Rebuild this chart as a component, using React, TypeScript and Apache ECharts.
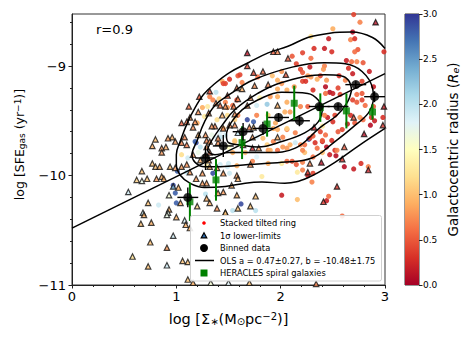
import React, { useEffect, useRef } from "react";
import * as echarts from "echarts";

const FONT = "DejaVu Sans";
const RDYLBU = ["#a50026","#d73027","#f46d43","#fdae61","#fee090","#ffffbf","#e0f3f8","#abd9e9","#74add1","#4575b4","#313695"];

// x, y, galactocentric radius
const rings: number[][] = [
[2.70,-8.53,.4],[2.76,-8.60,.7],[2.50,-8.66,.9],[2.29,-8.73,1.2],[2.69,-8.69,.1],[2.46,-8.75,.2],[2.67,-8.76,.7],[2.71,-8.75,.3],
[2.32,-8.84,.3],[2.42,-8.84,.2],[2.49,-8.87,.3],[2.74,-8.85,.5],[2.71,-8.87,.6],[2.99,-8.87,.3],[2.21,-8.88,.4],[2.11,-8.91,.5],
[2.29,-8.93,.6],[2.63,-8.95,.2],[2.68,-8.96,.6],[2.73,-8.96,.7],[2.79,-8.97,.5],[2.15,-8.98,.4],[2.28,-9.01,.2],[2.42,-9.0,.7],
[2.41,-9.03,.8],[2.65,-9.02,.3],[2.19,-9.03,.4],[2.21,-9.06,.5],[2.85,-9.05,.2],[2.26,-9.09,.8],[2.38,-9.09,.4],[2.56,-9.09,.3],
[2.69,-9.07,.2],[2.78,-9.14,.4],[2.21,-9.14,.4],[2.24,-9.14,.3],[2.29,-9.10,.8],[2.35,-9.12,.9],[2.44,-9.13,.8],[2.62,-9.13,.7],
[2.13,-9.19,.8],[1.97,-9.13,.9],[1.92,-9.09,1.0],[2.01,-9.05,.8],[1.59,-9.09,.5],[1.47,-9.16,.4],[1.51,-9.12,.3],[1.63,-9.15,.7],
[1.78,-9.10,.6],[2.01,-9.16,.8],[1.97,-9.21,.9],[2.06,-9.22,.9],[2.43,-9.19,.1],[2.47,-9.24,.1],[2.50,-9.25,.2],[2.43,-9.25,.6],
[2.31,-9.22,.3],[2.55,-9.20,.4],[2.57,-9.26,.4],[2.73,-9.26,.6],[2.78,-9.25,.5],[2.89,-9.19,.2],[2.69,-9.31,.4],[2.73,-9.33,.5],
[2.78,-9.31,.4],[2.89,-9.37,.5],[2.81,-9.36,.6],[2.67,-9.45,.3],[2.71,-9.52,.5],[2.76,-9.47,.8],[2.79,-9.49,.6],[2.87,-9.47,.3],
[2.86,-9.54,.1],[2.90,-9.50,.2],[2.98,-9.47,.3],[2.26,-9.37,.5],[2.19,-9.37,.7],[2.45,-9.47,.2],[2.52,-9.45,.4],[2.50,-9.51,.3],
[2.42,-9.45,.7],[2.40,-9.55,1.3],[2.38,-9.60,.4],[2.64,-9.53,.2],[2.59,-9.58,.4],[2.55,-9.60,.5],[2.43,-9.63,.6],[2.31,-9.64,.5],
[2.27,-9.67,2.9],[2.33,-9.70,.3],[2.40,-9.69,.2],[2.49,-9.68,.3],[2.44,-9.74,.1],[2.35,-9.75,.6],[1.87,-9.35,2.2],[1.97,-9.28,.9],
[1.80,-9.29,1.4],[1.77,-9.36,1.9],[1.68,-9.49,2.9],[1.74,-9.51,2.8],[1.77,-9.45,.7],[2.04,-9.42,.9],[2.09,-9.42,.8],[1.95,-9.52,.9],
[1.88,-9.45,1.1],[2.06,-9.58,.7],[1.97,-9.58,.9],[2.14,-9.61,.7],[2.02,-9.65,.7],[2.09,-9.72,.9],[2.14,-9.70,1.9],[2.02,-9.74,.8],
[2.23,-9.72,.6],[2.19,-9.72,.7],[1.56,-9.68,1.2],[1.77,-9.65,1.8],[1.73,-9.87,.7],[1.88,-9.89,.9],[2.01,-9.89,1.3],[2.06,-9.87,.6],
[2.11,-9.87,.5],[2.15,-9.90,.5],[2.21,-9.88,.7],[2.16,-9.97,1.3],[2.21,-9.95,.7],[2.26,-10.0,.2],[2.31,-9.98,.4],[2.30,-10.06,.7],
[1.82,-10.01,1.3],[2.01,-10.18,.2],[2.16,-10.22,1.0],[2.44,-10.23,.2],[2.46,-10.19,.6],[2.53,-9.82,.1],[2.61,-9.92,.1],[2.70,-9.94,.2],
[2.77,-9.89,.3],[2.84,-9.92,.7],[1.62,-10.26,2.9],[1.54,-10.32,2.0],[1.76,-10.32,2.0],[2.23,-9.79,1.0],[2.40,-9.79,1.0],[2.52,-9.77,.3],
[1.97,-9.77,.6],[1.88,-9.77,.8],[1.77,-9.83,1.8],[1.50,-9.89,1.9],[1.58,-9.91,.9],[1.66,-9.79,1.0],[2.59,-10.37,.6],
[.83,-10.27,1.9],[.99,-10.16,2.8],[1.0,-10.25,2.8],[1.01,-9.96,2.8],[1.10,-9.97,2.0],[1.28,-10.17,2.0],[1.35,-9.98,2.9],[1.11,-9.84,1.9],
[1.05,-9.81,1.2],[1.49,-9.92,1.9],[1.29,-9.91,1.3],[1.42,-9.90,1.9],[1.51,-9.98,1.9],[.97,-10.09,2.9],
[1.44,-9.14,.9],[1.45,-9.16,.4],[1.38,-9.24,2.0],[1.32,-9.28,.7],[1.35,-9.31,.7],[1.41,-9.30,1.1],[1.25,-9.38,.9],[1.30,-9.37,1.3],
[1.27,-9.46,1.3],[1.20,-9.52,.9],[1.47,-9.33,.7],[1.49,-9.38,.8],[1.19,-9.70,2.9],[1.39,-9.49,1.2],[1.42,-9.65,2.0],[1.47,-9.63,1.9],
[1.39,-9.66,1.9],[1.18,-9.69,2.8],[1.23,-9.74,2.0],[1.21,-9.79,1.7],[1.42,-9.61,1.8],[1.56,-9.69,1.0],[1.50,-9.74,1.5],[1.34,-9.63,1.7],
[1.54,-9.79,.9],[1.45,-9.57,.9],[1.56,-9.49,1.1],[1.54,-9.36,.6],[1.59,-9.45,.7],[1.58,-9.31,.4],[1.49,-9.45,1.2],[1.61,-9.08,.4],
[2.06,-9.33,.9],[1.90,-9.28,.8],[1.93,-9.57,.9],[2.06,-9.57,1.1],[1.93,-9.69,.7],[1.87,-9.72,1.1],[1.83,-9.66,1.0],[1.90,-9.77,.9],
[2.06,-9.75,.8],[2.21,-9.77,.7],[2.28,-9.66,.4],[2.40,-9.68,.5],[2.47,-9.81,.2],[2.54,-9.77,.7],[2.31,-9.83,.6]
];

const limits: number[][] = [
[1.32,-9.23,.4],[1.22,-9.28,.5],[1.12,-9.37,.6],[1.21,-9.42,.75],[1.13,-9.47,.75],[1.05,-9.52,.5],[1.10,-9.51,.6],[1.18,-9.51,.75],
[1.16,-9.56,.75],[1.31,-9.43,.75],[1.38,-9.34,.7],[1.42,-9.36,.6],[1.49,-9.27,.5],[1.47,-9.37,.75],[1.44,-9.45,.9],[1.45,-9.57,.75],
[1.37,-9.55,.7],[1.28,-9.63,.75],[1.21,-9.63,.9],[1.08,-9.65,.7],[.96,-9.65,.9],[.92,-9.66,.8],[.80,-9.67,1.0],[.77,-9.73,.9],
[.86,-9.75,.8],[.90,-9.74,.9],[.99,-9.69,.8],[1.05,-9.70,.7],[1.10,-9.72,.65],[1.29,-9.68,.7],[1.32,-9.69,.8],[1.40,-9.70,.75],
[.54,-10.15,1.9],[.67,-9.96,1.0],[.77,-9.89,1.0],[.80,-9.92,1.0],[.84,-9.92,.9],[.62,-10.04,1.1],[.67,-10.05,1.7],[.72,-10.03,1.0],
[.81,-10.03,.8],[.86,-10.01,.9],[.88,-10.03,.9],[.73,-10.25,1.0],[.68,-10.34,2.0],[.69,-10.36,.9],[.76,-10.43,.9],[.66,-10.44,1.0],
[.93,-10.31,.9],[.92,-10.34,1.7],[.91,-10.36,1.7],[1.0,-10.38,.9],[.75,-10.61,1.0],[.91,-10.66,.8],[.97,-10.55,1.9],[.58,-10.74,1.2],
[.73,-10.83,1.0],[.91,-10.82,1.9],[1.06,-10.78,1.0],[1.11,-10.79,1.0],[1.11,-10.95,1.0],[1.16,-10.98,.9],[1.33,-10.98,1.6],[.93,-10.18,1.6],
[1.04,-10.25,.9],[1.20,-10.28,1.1],[1.08,-10.41,1.8],[1.09,-10.45,.9],[1.13,-10.48,.9],[1.32,-10.25,.9],[1.29,-10.21,.9],[1.39,-10.30,.75],
[1.47,-10.34,1.0],[1.40,-10.16,.8],[1.45,-10.15,.8],[.94,-9.92,1.0],[1.05,-9.92,.8],[1.10,-9.90,.75],[.99,-9.93,.8],[.97,-10.10,2.4],
[1.13,-9.97,.8],[1.19,-10.03,.8],[1.25,-9.98,.8],[1.29,-10.07,.8],[1.25,-10.07,.8],[1.16,-9.81,.8],[1.02,-10.11,.9],[.86,-9.79,.8],
[1.23,-9.86,.9],[1.39,-9.93,.8],[1.32,-9.92,.9],[1.74,-9.06,.4],[1.83,-9.05,.6],[1.68,-9.0,.4],[1.68,-8.88,.1],[1.93,-8.87,.5],
[1.97,-8.87,.7],[2.07,-8.93,.5],[2.91,-8.60,.1],[2.05,-9.08,.5],[1.88,-9.17,.7],[1.75,-9.18,.75],[1.58,-9.20,.6],[1.63,-9.21,.9],
[1.71,-9.29,.75],[1.59,-9.30,.7],[1.68,-9.36,.75],[1.55,-9.37,.7],[1.97,-9.36,.9],[1.56,-9.44,.75],[1.51,-9.54,.75],[1.56,-9.54,.7],
[1.70,-9.56,.65],[1.74,-9.56,1.0],[2.32,-9.56,.2],[2.70,-9.47,.5],[2.99,-9.37,.2],[2.98,-9.54,.3],[2.80,-9.62,.1],[1.97,-9.65,.9],
[1.73,-9.65,.8],[1.59,-9.61,2.0],[2.61,-9.74,.5],[1.79,-9.75,.8],[1.73,-9.75,.2],[1.64,-9.72,.75],[1.58,-10.0,.8],[1.59,-10.03,.9],
[1.53,-10.09,.9],[1.58,-10.18,.9],[1.76,-10.19,1.0],[1.71,-10.28,1.0],[1.59,-10.30,1.0],[1.47,-10.34,1.0],[2.28,-9.89,.7],[2.39,-9.88,.1],
[2.59,-9.85,.3],[2.84,-9.95,.2],[2.26,-9.97,.3],[2.54,-10.10,.3],[2.41,-10.24,.3],[2.34,-10.99,.7],[1.71,-9.90,.75],[1.50,-10.98,1.8],
[1.70,-10.98,1.0],[1.45,-9.98,.8],[1.34,-9.55,.75],[1.40,-9.66,.75],[1.29,-9.74,.8],[1.32,-9.79,.6],[1.28,-9.81,.75],[1.31,-9.86,.9]
];

const binned: number[][] = [
[1.11,-10.20,.1,.09],[1.28,-9.84,.1,.11],[1.45,-9.73,.1,.1],[1.64,-9.60,.1,.08],[1.83,-9.57,.1,.06],[1.98,-9.47,.1,.04],
[2.18,-9.50,.1,.05],[2.37,-9.37,.1,.04],[2.55,-9.37,.1,.03],[2.72,-9.17,.1,.03],[2.90,-9.28,.1,.05]
];
const heracles: number[][] = [
[1.13,-10.24,.175],[1.38,-10.04,.19],[1.63,-9.70,.15],[1.87,-9.53,.115],[2.13,-9.34,.16],[2.38,-9.38,.13],[2.63,-9.41,.16],[2.88,-9.42,.07]
];
const olsLine = [[0,-10.48],[3,-9.07]];
const contour1 = [[3,-8.84],[2.88,-8.74],[2.68,-8.69],[2.47,-8.70],[2.26,-8.74],[2.07,-8.82],[1.88,-8.88],[1.69,-8.97],[1.51,-9.06],[1.37,-9.16],[1.26,-9.26],[1.18,-9.38],[1.11,-9.51],[1.04,-9.68],[1.0,-9.81],[1.0,-9.90],[1.04,-10.0],[1.13,-10.07],[1.27,-10.11],[1.47,-10.10],[1.66,-10.07],[1.82,-10.06],[2.04,-10.07],[2.26,-10.02],[2.52,-9.88],[2.76,-9.72],[3,-9.57]];
const contour2 = [[2.89,-9.31],[2.88,-9.20],[2.78,-9.05],[2.62,-8.98],[2.42,-8.97],[2.11,-9.01],[1.73,-9.13],[1.51,-9.26],[1.37,-9.36],[1.27,-9.51],[1.20,-9.68],[1.15,-9.81],[1.18,-9.88],[1.27,-9.92],[1.42,-9.92],[1.69,-9.90],[2.01,-9.88],[2.30,-9.84],[2.52,-9.69],[2.69,-9.56],[2.84,-9.43],[2.89,-9.31]];
const contour3 = [[2.68,-9.22],[2.65,-9.13],[2.58,-9.09],[2.42,-9.08],[2.01,-9.15],[1.78,-9.25],[1.56,-9.40],[1.44,-9.54],[1.34,-9.68],[1.30,-9.77],[1.37,-9.81],[1.50,-9.79],[1.69,-9.79],[1.88,-9.79],[2.14,-9.75],[2.38,-9.56],[2.54,-9.45],[2.64,-9.33],[2.68,-9.22]];
const contour4 = [[2.40,-9.40],[2.36,-9.31],[2.26,-9.25],[2.01,-9.24],[1.78,-9.31],[1.63,-9.40],[1.53,-9.51],[1.48,-9.63],[1.50,-9.70],[1.61,-9.72],[1.78,-9.74],[2.01,-9.69],[2.23,-9.61],[2.36,-9.51],[2.40,-9.40]];
const yMajor = [-11,-10,-9];
const yMinor = [-10.8,-10.6,-10.4,-10.2,-9.8,-9.6,-9.4,-9.2,-8.8,-8.6];
const legendLabels = ["Stacked tilted ring","1\u03c3 lower-limits","Binned data","OLS a = 0.47\u00b10.27, b = -10.48\u00b11.75","HERACLES spiral galaxies"];

const AXC = "#222";
const errorBars = (color: string, width: number, hasX: boolean) => (params: any, api: any) => {
  const x = api.value(0), y = api.value(1);
  const ey = api.value(hasX ? 3 : 2);
  const a = api.coord([x, y - ey]), b = api.coord([x, y + ey]);
  const style = { stroke: color, lineWidth: width };
  const children: any[] = [{ type: "line", shape: { x1: a[0], y1: a[1], x2: b[0], y2: b[1] }, style }];
  if (hasX) {
    const ex = api.value(2);
    const c = api.coord([x - ex, y]), d = api.coord([x + ex, y]);
    children.push({ type: "line", shape: { x1: c[0], y1: c[1], x2: d[0], y2: d[1] }, style });
  }
  return { type: "group", children };
};

export default function App() {
  const ref = useRef<HTMLDivElement>(null);
  useEffect(() => {
    const chart = echarts.init(ref.current!, null, { renderer: "svg" });
    const line = (name: string, data: number[][], smooth: number | boolean) => ({
      name, type: "line", data, smooth, symbol: "none", clip: true, z: 4,
      lineStyle: { color: "#000", width: 1.5 }, silent: true,
    });
    const legendY = [223, 235.5, 248, 260.5, 273];
    const leg = (child: any) => ({ ...child, z: 101 });
    chart.setOption({
      animation: false,
      textStyle: { fontFamily: FONT },
      grid: [
        { left: 72, top: 14, width: 313, height: 271, show: true, borderColor: "#333", borderWidth: 1, backgroundColor: "transparent" },
        { left: 405, top: 14, width: 14, height: 271, show: true, borderColor: "#333", borderWidth: 1 },
      ],
      xAxis: [
        { type: "value", gridIndex: 0, min: 0, max: 3, interval: 1, splitLine: { show: false },
          axisLine: { lineStyle: { color: AXC } }, axisTick: { length: 3.5, lineStyle: { color: AXC } },
          minorTick: { show: true, splitNumber: 5, length: 2, lineStyle: { color: AXC } }, minorSplitLine: { show: false },
          axisLabel: { fontSize: 13, color: "#000", margin: 5, fontFamily: FONT },
          name: "log [\u03a3{s|\u2217}(M{s|\u2299}pc{u|\u22122})]", nameLocation: "middle", nameGap: 26,
          nameTextStyle: { fontSize: 14.5, color: "#000", fontFamily: FONT,
            rich: { s: { fontSize: 10, verticalAlign: "bottom", fontFamily: FONT, padding: [4,0,0,0] }, u: { fontSize: 10, verticalAlign: "top", fontFamily: FONT, padding: [0,0,4,0] } } } },
        { type: "category", gridIndex: 1, data: ["c"], show: false },
      ],
      yAxis: [
        { type: "value", gridIndex: 0, min: -11, max: -8.525, splitLine: { show: false },
          axisLine: { show: true, lineStyle: { color: AXC } },
          axisTick: { show: true, length: 3.5, customValues: yMajor, lineStyle: { color: AXC } },
          axisLabel: { fontSize: 13, color: "#000", margin: 6, customValues: yMajor, fontFamily: FONT, formatter: (v: number) => String(v).replace("-", "\u2212") },
          name: "log [SFE{s|gas} (yr{u|\u22121})]", nameLocation: "middle", nameGap: 46,
          nameTextStyle: { fontSize: 12.5, color: "#000", fontFamily: FONT, padding: [0, 0, 0, 10],
            rich: { s: { fontSize: 9, verticalAlign: "bottom", fontFamily: FONT, padding: [4,0,0,0] }, u: { fontSize: 9, verticalAlign: "top", fontFamily: FONT, padding: [0,0,4,0] } } } },
        { type: "value", gridIndex: 0, min: -11, max: -8.525, splitLine: { show: false }, position: "left",
          axisLine: { show: false }, axisLabel: { show: false },
          axisTick: { show: true, length: 2, customValues: yMinor, lineStyle: { color: AXC } } },
        { type: "value", gridIndex: 1, min: 0, max: 3, interval: 0.5, position: "right", splitLine: { show: false },
          axisLine: { show: false }, axisTick: { show: true, length: 3.5, lineStyle: { color: AXC } },
          axisLabel: { fontSize: 9, color: "#000", margin: 4, fontFamily: FONT, formatter: (v: number) => v.toFixed(1) },
          name: "Galactocentric radius ({i|R}{s|e})", nameLocation: "middle", nameRotate: 90, nameGap: 27,
          nameTextStyle: { fontSize: 13.5, color: "#000", fontFamily: FONT,
            rich: { i: { fontStyle: "italic", fontSize: 13.5, fontFamily: FONT }, s: { fontStyle: "italic", fontSize: 9.5, fontFamily: FONT, verticalAlign: "bottom", padding: [3,0,0,0] } } } },
      ],
      visualMap: { show: false, type: "continuous", min: 0, max: 3, dimension: 2, seriesIndex: [0, 1], inRange: { color: RDYLBU } },
      series: [
        { name: legendLabels[0], type: "scatter", xAxisIndex: 0, yAxisIndex: 0, data: rings, symbolSize: 5.2, z: 2, itemStyle: { opacity: 0.9 } },
        { name: legendLabels[1], type: "scatter", xAxisIndex: 0, yAxisIndex: 0, data: limits, symbol: "triangle", symbolSize: 5.4, z: 3, itemStyle: { borderColor: "#111", borderWidth: 1.2 } },
        line("OLS", olsLine, false),
        line("contour 1", contour1, 0.4), line("contour 2", contour2, 0.4), line("contour 3", contour3, 0.4), line("contour 4", contour4, 0.4),
        { name: "HERACLES errors", type: "custom", data: heracles, encode: { x: 0, y: 1 }, z: 5, renderItem: errorBars("#008000", 2, false) },
        { name: legendLabels[4], type: "scatter", data: heracles, symbol: "rect", symbolSize: 7, z: 5, itemStyle: { color: "#008000" } },
        { name: "Binned errors", type: "custom", data: binned, encode: { x: 0, y: 1 }, z: 6, renderItem: errorBars("#000", 1.4, true) },
        { name: legendLabels[2], type: "scatter", data: binned, symbolSize: 9, z: 6, itemStyle: { color: "#000" } },
        { name: "colorbar", type: "bar", xAxisIndex: 1, yAxisIndex: 2, data: [3], barWidth: "100%", silent: true,
          itemStyle: { color: new echarts.graphic.LinearGradient(0, 1, 0, 0, RDYLBU.map((c, i) => ({ offset: i / 10, color: c }))) } },
      ],
      graphic: [
        { type: "text", left: 96, top: 23, z: 100, style: { text: "r=0.9", fontSize: 13, fontFamily: FONT, fill: "#000" } },
        leg({ type: "rect", shape: { x: 190.5, y: 215.5, width: 191, height: 65.5, r: 2 }, style: { fill: "rgba(255,255,255,0.88)", stroke: "#d0d0d0", lineWidth: 1 } }),
        leg({ type: "circle", shape: { cx: 204, cy: legendY[0], r: 1.8 }, style: { fill: "#ff0000" } }),
        leg({ type: "polygon", shape: { points: [[204, legendY[1] - 2.8], [206.8, legendY[1] + 2.4], [201.2, legendY[1] + 2.4]] }, style: { fill: "#2f6eb0", stroke: "#000", lineWidth: 1.2 } }),
        leg({ type: "circle", shape: { cx: 204, cy: legendY[2], r: 4 }, style: { fill: "#000" } }),
        leg({ type: "line", shape: { x1: 195, y1: legendY[3], x2: 214, y2: legendY[3] }, style: { stroke: "#000", lineWidth: 1.5 } }),
        leg({ type: "rect", shape: { x: 200.5, y: legendY[4] - 3.5, width: 7, height: 7 }, style: { fill: "#008000" } }),
        ...legendLabels.map((t, i) => leg({ type: "text", x: 220, y: legendY[i], style: { text: t, fontSize: 8.3, fontFamily: FONT, fill: "#000", textVerticalAlign: "middle", verticalAlign: "middle" } })),
      ],
    });
    return () => chart.dispose();
  }, []);
  return <div ref={ref} style={{ position: "absolute", left: 0, top: 0, width: 474, height: 339 }} />;
}
